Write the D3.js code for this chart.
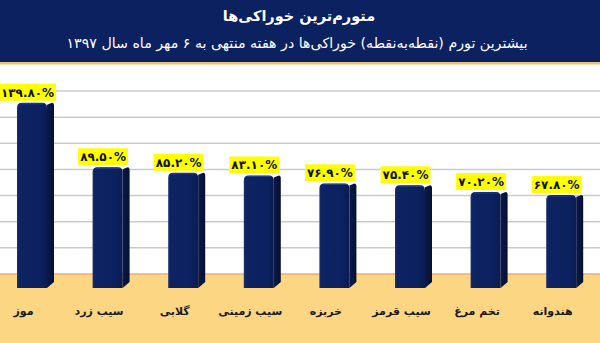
<!DOCTYPE html>
<html lang="fa">
<head>
<meta charset="utf-8">
<script src="https://cdn.jsdelivr.net/npm/d3@7/dist/d3.min.js"></script>
<style>
  html, body { margin: 0; padding: 0; background: #ffffff; }
  svg { display: block; }
  text { font-family: "DejaVu Sans", sans-serif; }
</style>
</head>
<body>
<svg id="chart" width="600" height="343"></svg>
<script>
// Food items with the highest point-to-point inflation, week ending 6 Mehr 1397
const categories = ["موز", "سیب زرد", "گلابی", "سیب زمینی", "خربزه", "سیب قرمز", "تخم مرغ", "هندوانه"];
const values = [139.8, 89.5, 85.2, 83.1, 76.9, 75.4, 70.2, 67.8];
const gridTicks = [0, 20, 40, 60, 80, 100, 120, 140];
const titleText = "متورم‌ترین خوراکی‌ها";
const subtitleText = "بیشترین تورم (نقطه‌به‌نقطه) خوراکی‌ها در هفته منتهی به ۶ مهر ماه سال ۱۳۹۷";

const W = 600, H = 343;
const headerH = 62;
const floorY = 274;

const svg = d3.select("#chart");

// Persian digits for value labels
const faDigits = "۰۱۲۳۴۵۶۷۸۹";
const toFa = s => s.replace(/[0-9]/g, d => faDigits[+d]);
const fmt = v => toFa(d3.format(".2f")(v)) + "%";

// Scales: back wall (gridlines) and front plane (bars)
const x = d3.scaleBand().domain(categories).range([-2.3, 602.5]).padding(0);
const yWall = d3.scaleLinear().domain([0, 140]).range([floorY, 91]);
const yBar = d3.scaleLinear().domain([0, 140]).range([282, 102.5]);

const defs = svg.append("defs");
const gFront = defs.append("linearGradient").attr("id", "front").attr("x1", 0).attr("x2", 1).attr("y1", 0).attr("y2", 0);
gFront.append("stop").attr("offset", "0%").attr("stop-color", "#1b3170");
gFront.append("stop").attr("offset", "7%").attr("stop-color", "#0e2462");
gFront.append("stop").attr("offset", "75%").attr("stop-color", "#0c2160");
gFront.append("stop").attr("offset", "100%").attr("stop-color", "#0a1c52");
const gSide = defs.append("linearGradient").attr("id", "side").attr("x1", 0).attr("x2", 1).attr("y1", 0).attr("y2", 0);
gSide.append("stop").attr("offset", "0%").attr("stop-color", "#0a1a4a");
gSide.append("stop").attr("offset", "100%").attr("stop-color", "#050f30");

// Plot background and floor
svg.append("rect").attr("x", 0).attr("y", headerH).attr("width", W).attr("height", floorY - headerH).attr("fill", "#ffffff");
svg.append("rect").attr("x", 0).attr("y", floorY).attr("width", W).attr("height", H - floorY).attr("fill", "#fdd683");

// Gridlines on the back wall
svg.append("g").selectAll("line").data(gridTicks.filter(t => t > 0)).join("line")
  .attr("x1", 0).attr("x2", W)
  .attr("y1", d => yWall(d)).attr("y2", d => yWall(d))
  .attr("stroke", "#cbcbcb").attr("stroke-width", 1.5);
svg.append("line").attr("x1", 0).attr("x2", W).attr("y1", floorY).attr("y2", floorY)
  .attr("stroke", "#f2aa78").attr("stroke-width", 1.5);

// Header band
svg.append("rect").attr("x", 0).attr("y", 0).attr("width", W).attr("height", headerH).attr("fill", "#0b2160");
svg.append("rect").attr("x", 0).attr("y", headerH).attr("width", W).attr("height", 2).attr("fill", "#f0bd6a");
svg.append("rect").attr("x", 0).attr("y", headerH + 2).attr("width", W).attr("height", 1).attr("fill", "#f6dfb8");

svg.append("text").attr("x", 299).attr("y", 21).attr("text-anchor", "middle")
  .attr("fill", "#ffffff").attr("font-size", 14.5).attr("font-weight", "bold")
  .style("unicode-bidi", "plaintext").style("direction", "rtl")
  .text(titleText);
svg.append("text").attr("x", 297).attr("y", 48).attr("text-anchor", "middle")
  .attr("fill", "#ffffff").attr("font-size", 14.2)
  .style("unicode-bidi", "plaintext").style("direction", "rtl")
  .text(subtitleText);

// 3D-style bars
const depth = 7, slant = 5, frontW = 30;
const bars = svg.append("g").selectAll("g").data(values).join("g");
bars.each(function (v, i) {
  const g = d3.select(this);
  const x0 = x(categories[i]) + x.bandwidth() / 2 - 18.5;
  const xf = x0 + frontW;
  const top = yBar(v);
  const bottom = 288;
  const r = 5;
  // side face
  g.append("path")
    .attr("d", `M${xf},${top + 2} L${xf + depth - 2},${top} Q${xf + depth},${top} ${xf + depth},${top + 3} L${xf + depth},${bottom - slant - 1} L${xf},${bottom} Z`)
    .attr("fill", "url(#side)");
  // front face with rounded top corners
  g.append("path")
    .attr("d", `M${x0},${bottom} L${x0},${top + r} Q${x0},${top} ${x0 + r},${top} L${xf - r},${top} Q${xf},${top} ${xf},${top + r} L${xf},${bottom} Z`)
    .attr("fill", "url(#front)");
  // faint top highlight
  g.append("line").attr("x1", x0 + 3).attr("x2", xf - 2).attr("y1", top + 1).attr("y2", top + 1)
    .attr("stroke", "#2a3f80").attr("stroke-width", 1);
});

// Value labels on yellow boxes
const labels = svg.append("g").selectAll("g").data(values).join("g")
  .attr("transform", (v, i) => `translate(${x(categories[i]) + x.bandwidth() / 2 - 8},${yBar(v) - 2})`);
labels.each(function (v) {
  const g = d3.select(this);
  const t = g.append("text").attr("x", 0).attr("y", -4).attr("text-anchor", "middle")
    .attr("font-size", 12).attr("font-weight", "bold").attr("fill", "#111")
    .style("direction", "ltr").text(fmt(v));
  const w = t.node().getComputedTextLength() + 4;
  g.insert("rect", "text").attr("x", -w / 2).attr("y", -17).attr("width", w).attr("height", 17)
    .attr("fill", "#ffff00");
});

// Category labels on the floor
svg.append("g").selectAll("text").data(categories).join("text")
  .attr("x", d => x(d) + x.bandwidth() / 2 - 12)
  .attr("y", 315)
  .attr("text-anchor", "middle")
  .attr("font-size", 11).attr("font-weight", "bold").attr("fill", "#1a1a1a")
  .style("direction", "rtl")
  .text(d => d);
</script>
</body>
</html>
